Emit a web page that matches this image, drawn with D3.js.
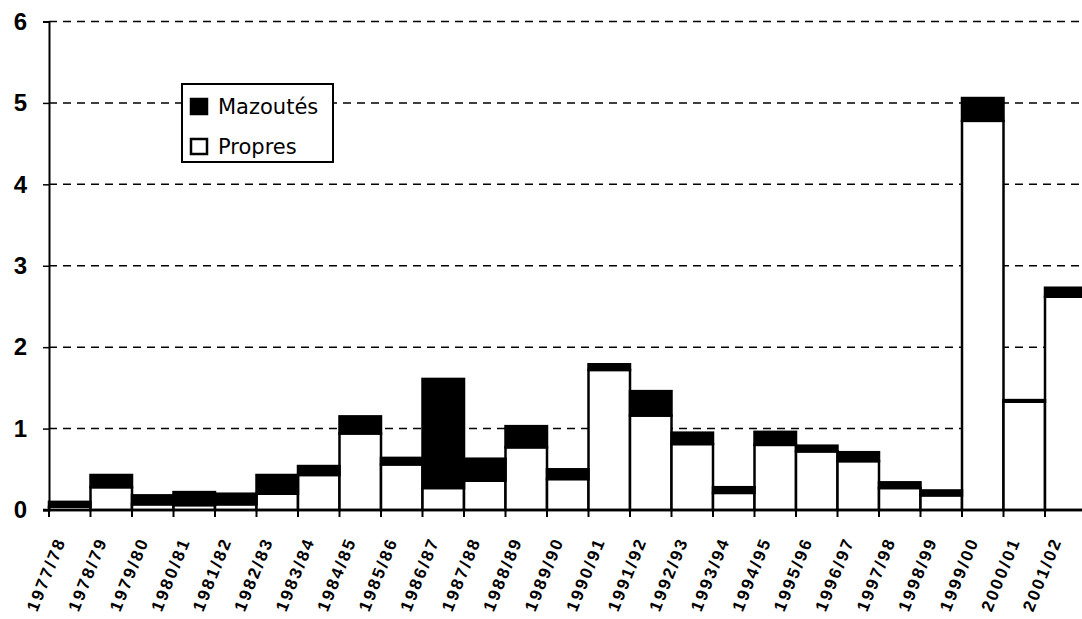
<!DOCTYPE html>
<html lang="fr">
  <head>
    <meta charset="UTF-8" />
    <title>Mazoutés / Propres</title>
    <script src="https://cdn.jsdelivr.net/npm/d3@7"></script>
    <style>
      body {
        margin: 0;
        background: #fff;
      }
      .ylab text {
        font: bold 24px 'Liberation Sans', Arial, sans-serif;
      }
      .xlab text {
        font: bold 17px 'Liberation Sans', Arial, sans-serif;
        letter-spacing: 2.4px;
      }
      .grid line {
        stroke: #000;
        stroke-width: 1.5px;
        stroke-dasharray: 8 6;
      }
      .bar {
        stroke: #000;
        stroke-width: 2.5px;
      }
      .legend text {
        font: 21px 'DejaVu Sans', Verdana, sans-serif;
      }
    </style>
  </head>
  <body>
    <svg width="1082" height="619"></svg>
    <script>
      const categories = [
        '1977/78', '1978/79', '1979/80', '1980/81', '1981/82', '1982/83',
        '1983/84', '1984/85', '1985/86', '1986/87', '1987/88', '1988/89',
        '1989/90', '1990/91', '1991/92', '1992/93', '1993/94', '1994/95',
        '1995/96', '1996/97', '1997/98', '1998/99', '1999/00', '2000/01',
        '2001/02'
      ];
      const propres = [
        0.04, 0.28, 0.07, 0.06, 0.07, 0.2, 0.43, 0.94, 0.56, 0.27, 0.36, 0.77,
        0.38, 1.72, 1.16, 0.81, 0.21, 0.8, 0.72, 0.6, 0.27, 0.18, 4.78, 1.33,
        2.62
      ];
      const mazoutes = [
        0.06, 0.15, 0.11, 0.16, 0.13, 0.23, 0.11, 0.21, 0.08, 1.34, 0.27, 0.26,
        0.12, 0.07, 0.3, 0.14, 0.07, 0.16, 0.07, 0.11, 0.07, 0.06, 0.28, 0.02,
        0.11
      ];
      const yTicks = [0, 1, 2, 3, 4, 5, 6];

      var svg = d3.select('svg');
      var x = d3.scaleBand().domain(categories).range([49, 1086.5]).padding(0);
      var y = d3.scaleLinear().domain([0, 6]).range([510, 21.5]);

      // dashed grid
      svg
        .append('g')
        .attr('class', 'grid')
        .selectAll('line')
        .data(yTicks.slice(1))
        .enter()
        .append('line')
        .attr('x1', 49)
        .attr('x2', 1082)
        .attr('y1', (d) => y(d))
        .attr('y2', (d) => y(d));

      var rows = categories.map((c, i) => ({
        cat: c,
        propres: propres[i],
        mazoutes: mazoutes[i]
      }));
      var stack = d3.stack().keys(['propres', 'mazoutes'])(rows);
      var fills = { propres: '#fff', mazoutes: '#000' };

      svg
        .selectAll('.serie')
        .data(stack)
        .enter()
        .append('g')
        .attr('fill', (s) => fills[s.key])
        .selectAll('rect')
        .data((s) => s)
        .enter()
        .append('rect')
        .attr('class', 'bar')
        .attr('x', (d) => x(d.data.cat))
        .attr('width', x.bandwidth())
        .attr('y', (d) => y(d[1]))
        .attr('height', (d) => y(d[0]) - y(d[1]));

      // y axis
      var yAxis = svg
        .append('g')
        .attr('class', 'ylab')
        .attr('transform', 'translate(49,0)')
        .call(
          d3
            .axisLeft(y)
            .tickValues(yTicks)
            .tickFormat(d3.format('d'))
            .tickSize(6)
            .tickPadding(16)
        );
      yAxis.select('.domain').attr('stroke-width', 2);
      yAxis.selectAll('.tick line').attr('stroke-width', 1.5);

      // x axis line + ticks on the band edges
      svg
        .append('line')
        .attr('x1', 43)
        .attr('x2', 1082)
        .attr('y1', y(0))
        .attr('y2', y(0))
        .attr('stroke', '#000')
        .attr('stroke-width', 2.5);
      svg
        .append('g')
        .selectAll('line')
        .data(categories)
        .enter()
        .append('line')
        .attr('x1', (d) => x(d))
        .attr('x2', (d) => x(d))
        .attr('y1', y(0))
        .attr('y2', y(0) + 7)
        .attr('stroke', '#000')
        .attr('stroke-width', 2);

      svg
        .append('g')
        .attr('class', 'xlab')
        .selectAll('text')
        .data(categories)
        .enter()
        .append('text')
        .attr(
          'transform',
          (d) => 'translate(' + (x(d) + x.bandwidth() / 2 - 9) + ',538) rotate(-68)'
        )
        .attr('text-anchor', 'end')
        .attr('dy', '0.35em')
        .text((d) => d);

      // legend
      var lg = svg.append('g').attr('class', 'legend');
      lg.append('rect')
        .attr('x', 182)
        .attr('y', 84)
        .attr('width', 151)
        .attr('height', 78)
        .attr('fill', '#fff')
        .attr('stroke', '#000')
        .attr('stroke-width', 2);
      var items = [
        { name: 'Mazoutés', key: 'mazoutes' },
        { name: 'Propres', key: 'propres' }
      ];
      var li = lg
        .selectAll('.item')
        .data(items)
        .enter()
        .append('g')
        .attr('transform', (d, i) => 'translate(191,' + (99 + i * 40) + ')');
      li.append('rect')
        .attr('width', 16)
        .attr('height', 15)
        .attr('fill', (d) => fills[d.key])
        .attr('stroke', '#000')
        .attr('stroke-width', 2.5);
      li.append('text')
        .attr('x', 27)
        .attr('y', 15)
        .text((d) => d.name);
    </script>
  </body>
</html>
